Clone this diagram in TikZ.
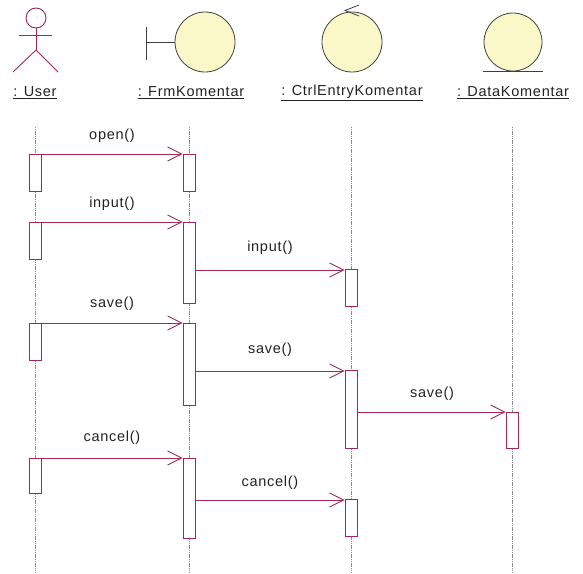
\documentclass[tikz,border=0pt]{standalone}
\usepackage{fontspec}
\setmainfont{Liberation Sans}[LetterSpace=5]
\usetikzlibrary{arrows.meta}
\definecolor{crim}{HTML}{A3284D}
\definecolor{ink}{HTML}{222222}
\definecolor{pale}{HTML}{FAF8C8}
\definecolor{rim}{HTML}{404040}
\tikzset{
  lifeline/.style={draw=gray!90, line width=0.7pt, dash pattern=on 1.2pt off 0.6pt},
  actbox/.style={draw=crim, fill=white, line width=0.9pt, minimum width=12pt, inner sep=0pt, anchor=north},
  msg/.style={draw=crim, line width=0.9pt, -{Straight Barb[length=14pt,width=14pt,line width=0.9pt]}},
  icon/.style={circle, draw=rim, fill=pale, line width=0.8pt, minimum size=60pt, inner sep=0pt},
  hdr/.style={text=ink, font=\fontsize{14.5}{16}\selectfont},
  lbl/.style={text=ink, font=\fontsize{14.5}{16}\selectfont},
  fig/.style={draw=crim, line width=0.9pt},
}
\begin{document}
\begin{tikzpicture}[x=1pt,y=-1pt]
\useasboundingbox (0,0) rectangle (583,573);
% header icons
\node[circle, draw=crim, line width=0.9pt, minimum size=20pt, inner sep=0pt] (uHead) at (36,18) {};
\coordinate (uHip) at (36,50);
\coordinate (uArmL) at (19,35);
\coordinate (uArmR) at (52,35);
\coordinate (uLegL) at (13,72);
\coordinate (uLegR) at (58,72);
\draw[fig] (uHead.south) -- (uHip);
\draw[fig] (uArmL) -- (uArmR);
\draw[fig] (uLegL) -- (uHip) -- (uLegR);

\node[icon] (frmC) at (205,42) {};
\coordinate (frmBarT) at (146,27);
\coordinate (frmBarB) at (146,60);
\coordinate (frmBarM) at (146,42);
\draw[draw=rim, line width=0.9pt] (frmBarT) -- (frmBarB);
\draw[draw=rim, line width=0.9pt] (frmBarM) -- (frmC.west);

\node[icon] (ctlC) at (352,42) {};
\coordinate (ctlA1) at (359,5);
\coordinate (ctlA2) at (345,10.5);
\coordinate (ctlA3) at (359,16);
\draw[draw=rim, line width=0.8pt] (ctlA1) -- (ctlA2) -- (ctlA3);

\node[icon, minimum size=58pt] (datC) at (513,42) {};
\coordinate (datL) at (483,71);
\coordinate (datR) at (543,71);
\draw[draw=rim, line width=0.9pt] (datL) -- (datR);

\node[hdr] (uName) at (35,93) {\underline{: User}};
\node[hdr] (fName) at (191,93) {\underline{: FrmKomentar}};
\node[hdr] (cName) at (352,93) {\underline{: CtrlEntryKomentar}};
\node[hdr] (dName) at (513,93) {\underline{: DataKomentar}};

% lifelines
\foreach \n/\x in {u/35, f/189, c/351, d/512} {
  \coordinate (\n Top) at (\x,127);
  \coordinate (\n Bot) at (\x,573);
  \draw[lifeline] (\n Top) -- (\n Bot);
}

% activation boxes
\node[actbox, minimum height=37pt] (u1) at (35,154) {};
\node[actbox, minimum height=37pt] (f1) at (189,154) {};
\node[actbox, minimum height=37pt] (u2) at (35,222) {};
\node[actbox, minimum height=81pt] (f2) at (189,222) {};
\node[actbox, minimum height=37pt] (c1) at (351,269) {};
\node[actbox, minimum height=37pt] (u3) at (35,323) {};
\node[actbox, minimum height=82pt] (f3) at (189,323) {};
\node[actbox, minimum height=78pt] (c2) at (351,370) {};
\node[actbox, minimum height=36pt] (d1) at (512,412) {};
\node[actbox, minimum height=35pt] (u4) at (35,458) {};
\node[actbox, minimum height=80pt] (f4) at (189,458) {};
\node[actbox, minimum height=37pt] (c3) at (351,499) {};

% messages
\draw[msg] (u1.north east) -- (f1.north west);
\node[lbl] (m1) at (112,136) {open()};
\draw[msg] (u2.north east) -- (f2.north west);
\node[lbl] (m2) at (112,204) {input()};
\draw[msg] ([yshift=-1pt]f2.east |- c1.north) -- ([yshift=-1pt]c1.north west);
\node[lbl] (m3) at (270,248) {input()};
\draw[msg] (u3.north east) -- (f3.north west);
\node[lbl] (m4) at (112,304) {save()};
\draw[msg] ([yshift=-1pt]f3.east |- c2.north) -- ([yshift=-1pt]c2.north west);
\node[lbl] (m5) at (270,350) {save()};
\draw[msg] (c2.east |- d1.north) -- (d1.north west);
\node[lbl] (m6) at (432,394) {save()};
\draw[msg] (u4.north east) -- (f4.north west);
\node[lbl] (m7) at (112,438) {cancel()};
\draw[msg] ([yshift=-1pt]f4.east |- c3.north) -- ([yshift=-1pt]c3.north west);
\node[lbl] (m8) at (270,483) {cancel()};
\end{tikzpicture}
\end{document}
